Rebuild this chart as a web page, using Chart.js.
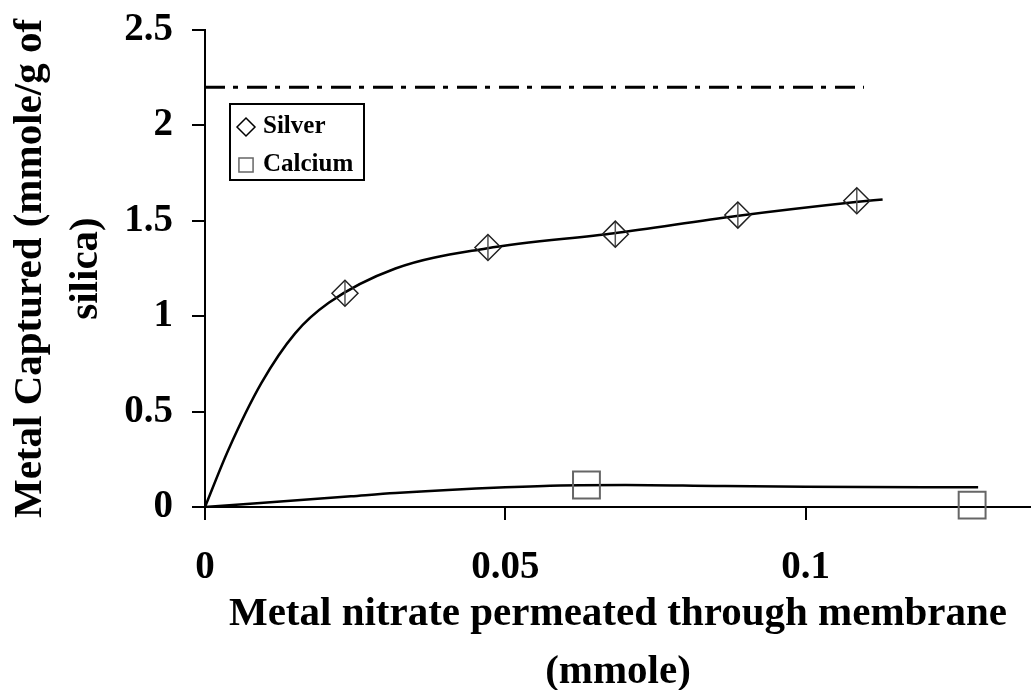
<!DOCTYPE html>
<html>
<head>
<meta charset="utf-8">
<script src="https://cdn.jsdelivr.net/npm/chart.js@4.4.1/dist/chart.umd.min.js"></script>
<style>
  html, body { margin: 0; padding: 0; background: #fff; }
  canvas { display: block; }
</style>
</head>
<body>
<canvas id="chart" width="1031" height="690"></canvas>
<script>
// Tick values and labels
const xTicks = [0, 0.05, 0.1];
const xTickLabels = ['0', '0.05', '0.1'];
const yTicks = [0, 0.5, 1, 1.5, 2, 2.5];
const yTickLabels = ['0', '0.5', '1', '1.5', '2', '2.5'];
const seriesNames = ['Silver', 'Calcium'];

// Measured points
const silverX = [0.0233, 0.0471, 0.0683, 0.0887, 0.1085];
const silverY = [1.12, 1.36, 1.43, 1.53, 1.605];
const calciumX = [0.0635, 0.1277];
const calciumY = [0.115, 0.01];

// Fitted curves
const silverFitX = [0, 0.0039, 0.0094, 0.015, 0.0206, 0.0317, 0.0468, 0.0681, 0.0885, 0.1083, 0.1128];
const silverFitY = [0, 0.30, 0.65, 0.91, 1.07, 1.25, 1.355, 1.435, 1.525, 1.598, 1.612];
const calciumFitX = [0, 0.0243, 0.0317, 0.05, 0.0592, 0.07, 0.085, 0.1, 0.1287];
const calciumFitY = [0, 0.056, 0.073, 0.103, 0.113, 0.115, 0.11, 0.106, 0.103];

// Capacity line (dash-dot)
const capacityX = [0, 0.1097];
const capacityY = [2.2, 2.2];

const zip = (xs, ys) => xs.map((x, i) => ({ x, y: ys[i] }));

const FONT = "'Liberation Serif', 'Times New Roman', serif";

// drop the label overflow padding so the plot box sits where the original does
const noPad = (scale) => {
  scale.paddingTop = 0;
  scale.paddingBottom = 0;
  scale.paddingLeft = 0;
  scale.paddingRight = 0;
};

const legendBox = {
  id: 'legendBox',
  afterDatasetsDraw(chart) {
    const ctx = chart.ctx;
    ctx.save();
    ctx.fillStyle = '#fff';
    ctx.fillRect(230, 104, 134, 76);
    ctx.lineWidth = 2;
    ctx.strokeStyle = '#000';
    ctx.strokeRect(230, 104, 134, 76);

    const items = [
      { style: 'rectRot', radius: 9, color: '#000', y: 127 },
      { style: 'rect', radius: 10, color: '#666', y: 165 },
    ];
    items.forEach((it, i) => {
      ctx.fillStyle = '#fff';
      ctx.strokeStyle = it.color;
      ctx.lineWidth = 1.5;
      Chart.helpers.drawPoint(ctx, { pointStyle: it.style, radius: it.radius, rotation: 0, borderWidth: 1.5 }, 246, it.y);
      ctx.fillStyle = '#000';
      ctx.font = 'bold 25px ' + FONT;
      ctx.textBaseline = 'middle';
      ctx.textAlign = 'left';
      ctx.fillText(seriesNames[i], 263, it.y);
    });
    ctx.restore();
  }
};

new Chart(document.getElementById('chart').getContext('2d'), {
  type: 'scatter',
  data: {
    datasets: [
      {
        label: seriesNames[0],
        data: zip(silverX, silverY),
        showLine: false,
        pointStyle: 'rectRot',
        pointRadius: 13,
        pointBorderWidth: 1.5,
        pointBorderColor: '#222',
        pointBackgroundColor: 'rgba(0,0,0,0)',
      },
      {
        label: 'Silver bars',
        data: zip(silverX, silverY),
        showLine: false,
        pointStyle: 'line',
        rotation: 90,
        pointRadius: 12,
        pointBorderWidth: 1.5,
        pointBorderColor: '#555',
      },
      {
        label: seriesNames[1],
        data: zip(calciumX, calciumY),
        showLine: false,
        pointStyle: 'rect',
        pointRadius: 19,
        pointBorderWidth: 2,
        pointBorderColor: '#666',
        pointBackgroundColor: 'rgba(0,0,0,0)',
        clip: false,
      },
      {
        label: 'Silver fit',
        data: zip(silverFitX, silverFitY),
        showLine: true,
        pointRadius: 0,
        borderColor: '#000',
        borderWidth: 2.5,
        cubicInterpolationMode: 'monotone',
      },
      {
        label: 'Calcium fit',
        data: zip(calciumFitX, calciumFitY),
        showLine: true,
        pointRadius: 0,
        borderColor: '#000',
        borderWidth: 2.5,
        cubicInterpolationMode: 'monotone',
      },
      {
        label: 'Capacity',
        data: zip(capacityX, capacityY),
        showLine: true,
        pointRadius: 0,
        borderColor: '#000',
        borderWidth: 3,
        borderDash: [20, 8, 5, 9],
      },
    ]
  },
  options: {
    responsive: false,
    devicePixelRatio: 1,
    animation: false,
    layout: { autoPadding: false, padding: { top: 30, right: 0, bottom: 0, left: 0 } },
    plugins: {
      legend: { display: false },
      tooltip: { enabled: false },
    },
    scales: {
      x: {
        type: 'linear',
        min: 0,
        max: 0.1375,
        afterBuildTicks: (scale) => { scale.ticks = xTicks.map(v => ({ value: v })); },
        afterFit: (scale) => { scale.height = 183; noPad(scale); },
        border: { color: '#000', width: 2 },
        grid: { drawOnChartArea: false, drawTicks: true, tickLength: 13, color: '#000', lineWidth: 2 },
        ticks: {
          color: '#000',
          padding: 25,
          maxRotation: 0,
          font: { family: FONT, size: 39, weight: 'bold' },
          callback: (v, i) => xTickLabels[i],
        },
        title: {
          display: true,
          text: ['Metal nitrate permeated through membrane', '(mmole)'],
          color: '#000',
          font: { family: FONT, size: 41, weight: 'bold', lineHeight: 1.4 },
          padding: { top: 0, bottom: -11 },
        },
      },
      y: {
        type: 'linear',
        min: 0,
        max: 2.5,
        afterBuildTicks: (scale) => { scale.ticks = yTicks.map(v => ({ value: v })); },
        afterFit: (scale) => { scale.width = 205; noPad(scale); },
        border: { color: '#000', width: 2 },
        grid: { drawOnChartArea: false, drawTicks: true, tickLength: 13, color: '#000', lineWidth: 2 },
        ticks: {
          color: '#000',
          padding: 19,
          font: { family: FONT, size: 39, weight: 'bold' },
          callback: (v, i) => yTickLabels[i],
        },
        title: {
          display: true,
          text: ['Metal Captured (mmole/g of', 'silica)'],
          color: '#000',
          font: { family: FONT, size: 41, weight: 'bold', lineHeight: 1.35 },
          padding: { top: 3, bottom: 0 },
        },
      },
    },
  },
  plugins: [legendBox],
});
</script>
</body>
</html>
